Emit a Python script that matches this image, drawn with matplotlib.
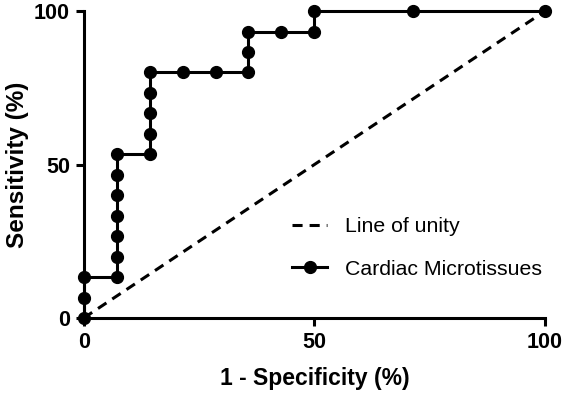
import numpy as np
import matplotlib
matplotlib.use('Agg')
from matplotlib import pyplot as plt

# ROC points (%), 14 negatives / 15 positives
fpr = [0, 0, 0, 7.14, 7.14, 7.14, 7.14, 7.14, 7.14, 7.14,
       14.29, 14.29, 14.29, 14.29, 14.29,
       21.43, 28.57, 35.71, 35.71, 35.71, 42.86, 50, 50, 71.43, 100]
tpr = [0, 6.67, 13.33, 13.33, 20, 26.67, 33.33, 40, 46.67, 53.33,
       53.33, 60, 66.67, 73.33, 80,
       80, 80, 80, 86.67, 93.33, 93.33, 93.33, 100, 100, 100]
unity_x = [0, 100]
unity_y = [0, 100]
xticks = [0, 50, 100]
yticks = [0, 50, 100]

plt.rcParams['font.family'] = ['Liberation Sans', 'DejaVu Sans']

fig = plt.figure(figsize=(5.66, 3.95), dpi=100)
ax = fig.add_axes([0.148, 0.195, 0.815, 0.777])

ax.plot(unity_x, unity_y, '--', color='black', lw=2.2, dashes=(3.3, 2.3),
        label='Line of unity', clip_on=False)
ax.plot(fpr, tpr, '-', color='black', lw=2.2, marker='o', ms=8.5,
        label='Cardiac Microtissues', clip_on=False, zorder=3)

ax.set_xlim(0, 100)
ax.set_ylim(0, 100)
ax.set_xticks(xticks)
ax.set_yticks(yticks)
for s in ['top', 'right']:
    ax.spines[s].set_visible(False)
for s in ['left', 'bottom']:
    ax.spines[s].set_linewidth(2.2)
ax.tick_params(width=2.2, length=6, labelsize=15.5, pad=4)
for lbl in ax.get_xticklabels() + ax.get_yticklabels():
    lbl.set_fontweight('bold')

ax.set_xlabel('1 - Specificity (%)', fontsize=16.5, fontweight='bold', labelpad=10)
ax.set_ylabel('Sensitivity (%)', fontsize=17.5, fontweight='bold')
ax.yaxis.set_label_coords(-0.118, 0.5)

ax.legend(loc='upper left', bbox_to_anchor=(0.41, 0.39), frameon=False,
          fontsize=15.3, handlelength=1.65, labelspacing=1.1, handletextpad=0.85)

fig.savefig('out.png', dpi=100)
